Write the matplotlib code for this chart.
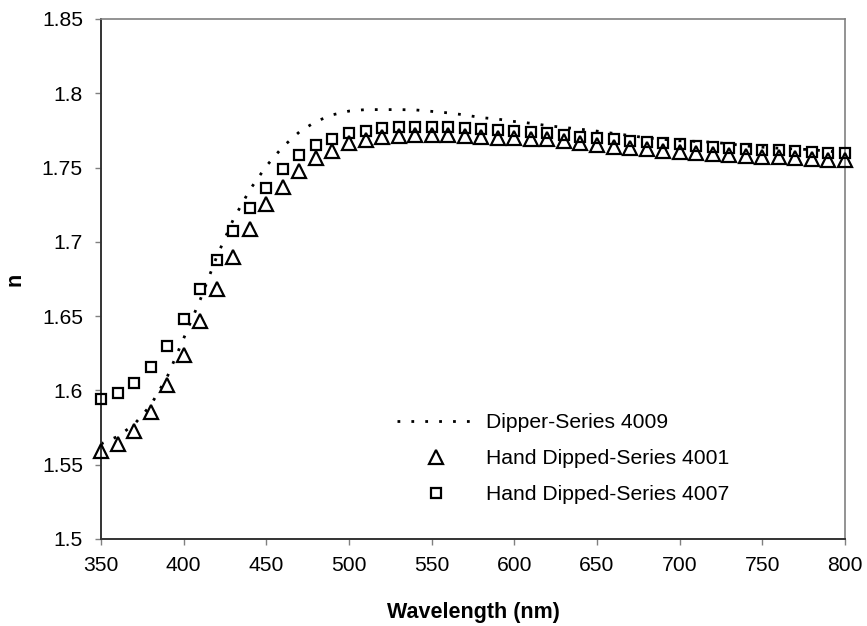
import numpy as np
import matplotlib.pyplot as plt

wavelength = np.arange(350, 801, 10)

# Dipper-Series 4009 (dotted line)
dipper_4009 = [1.564, 1.569, 1.577, 1.590, 1.609, 1.635, 1.661, 1.690, 1.715, 1.735,
               1.751, 1.764, 1.774, 1.781, 1.7855, 1.788, 1.789, 1.789, 1.789, 1.7888,
               1.7878, 1.7868, 1.7854, 1.7836, 1.7826, 1.781, 1.7798, 1.7782, 1.777, 1.7758,
               1.7745, 1.773, 1.7715, 1.770, 1.769, 1.768, 1.7676, 1.767, 1.766, 1.7645,
               1.7637, 1.763, 1.7625, 1.762, 1.761, 1.760]

# Hand Dipped-Series 4001 (triangles)
hand_4001 = [1.5595, 1.5638, 1.573, 1.5857, 1.6037, 1.6239, 1.6467, 1.6683, 1.690, 1.7087,
             1.7253, 1.7371, 1.7479, 1.7562, 1.761, 1.7663, 1.7686, 1.7708, 1.7713, 1.772,
             1.772, 1.772, 1.7713, 1.7708, 1.7702, 1.770, 1.7695, 1.769, 1.768, 1.7665,
             1.7652, 1.7641, 1.763, 1.7623, 1.761, 1.7605, 1.7596, 1.759, 1.7585, 1.758,
             1.7573, 1.7569, 1.7562, 1.7556, 1.7551, 1.7548]

# Hand Dipped-Series 4007 (squares)
hand_4007 = [1.594, 1.598, 1.605, 1.616, 1.630, 1.648, 1.668, 1.688, 1.707, 1.723,
             1.7365, 1.749, 1.7585, 1.765, 1.769, 1.773, 1.7746, 1.7769, 1.7776, 1.7776,
             1.7776, 1.7771, 1.7769, 1.776, 1.7756, 1.7746, 1.7742, 1.773, 1.7722, 1.7705,
             1.770, 1.769, 1.768, 1.767, 1.7663, 1.766, 1.7645, 1.764, 1.763, 1.7625,
             1.7618, 1.7615, 1.761, 1.7605, 1.7596, 1.7595]

x_ticks = np.arange(350, 801, 50)
y_ticks = [1.5, 1.55, 1.6, 1.65, 1.7, 1.75, 1.8, 1.85]
y_tick_labels = ['1.5', '1.55', '1.6', '1.65', '1.7', '1.75', '1.8', '1.85']


def main():
    plt.rcParams['font.family'] = ['Liberation Sans', 'DejaVu Sans']

    fig = plt.figure(figsize=(8.67, 6.26), dpi=100)
    ax = fig.add_axes([0.1165, 0.139, 0.8581, 0.8307])

    ax.plot(wavelength, dipper_4009, color='black', lw=2,
            linestyle=(0, (1, 4)), label='Dipper-Series 4009', zorder=2)
    ax.plot(wavelength, hand_4001, linestyle='none', marker='^', ms=9.5,
            mfc='none', mec='black', mew=1.6, clip_on=False,
            label='Hand Dipped-Series 4001', zorder=3)
    ax.plot(wavelength, hand_4007, linestyle='none', marker='s', ms=7.5,
            mfc='none', mec='black', mew=1.6, clip_on=False,
            label='Hand Dipped-Series 4007', zorder=3)

    ax.set_xlim(350, 800)
    ax.set_ylim(1.5, 1.85)
    ax.set_xticks(x_ticks)
    ax.set_yticks(y_ticks)
    ax.set_yticklabels(y_tick_labels)

    ax.tick_params(axis='both', direction='out', length=4, width=1,
                   color='#808080', labelsize=15.2, labelcolor='black')
    ax.tick_params(axis='x', pad=8)
    ax.tick_params(axis='y', pad=9)

    for side in ['left', 'bottom']:
        ax.spines[side].set_color('#333333')
        ax.spines[side].set_linewidth(1.4)
    for side in ['top', 'right']:
        ax.spines[side].set_color('#808080')
        ax.spines[side].set_linewidth(1.2)

    ax.set_xlabel('Wavelength (nm)', fontsize=15.5, fontweight='bold', labelpad=20)
    ax.set_ylabel('n', fontsize=15.5, fontweight='bold', labelpad=12)

    ax.legend(loc='upper left', bbox_to_anchor=(0.458, 0.340),
              bbox_transform=fig.transFigure, frameon=False, fontsize=15.2,
              handlelength=3.7, handletextpad=0.5, labelspacing=0.8,
              borderpad=0, borderaxespad=0, numpoints=1)

    fig.savefig('out.png', dpi=100)


if __name__ == '__main__':
    main()
